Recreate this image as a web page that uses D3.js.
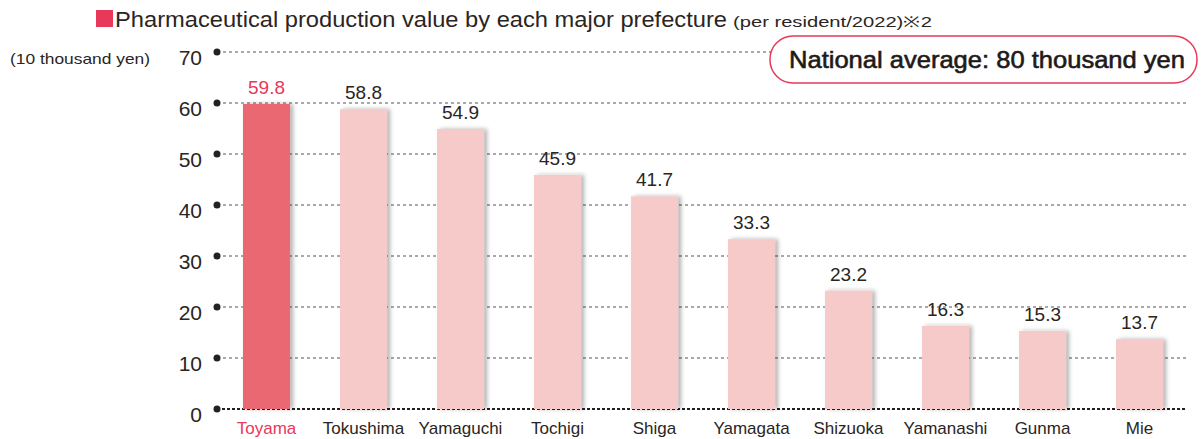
<!DOCTYPE html>
<html><head><meta charset="utf-8">
<script src="https://cdn.jsdelivr.net/npm/d3@7"></script>
<style>body{margin:0;background:#fff;}svg{display:block;font-family:"Liberation Sans",Arial,sans-serif;}</style>
</head><body>
<svg id="chart" width="1203" height="439"></svg>
<script>
const categories = ["Toyama","Tokushima","Yamaguchi","Tochigi","Shiga","Yamagata","Shizuoka","Yamanashi","Gunma","Mie"];
const values = [59.8,58.8,54.9,45.9,41.7,33.3,23.2,16.3,15.3,13.7];
const yTicks = [0,10,20,30,40,50,60,70];
const highlight = "Toyama";

const svg = d3.select("#chart");
const accent = "#e8395a";
const ink = "#2a2522";
const x = d3.scaleBand().domain(categories).range([218,1188]).paddingInner(0.515).paddingOuter(0.2575);
const y = d3.scaleLinear().domain([0,70]).range([409,52]);

const defs = svg.append("defs");
const f = defs.append("filter").attr("id","sh").attr("x","-20%").attr("y","-10%").attr("width","160%").attr("height","130%");
f.append("feDropShadow").attr("dx",3).attr("dy",0).attr("stdDeviation",2).attr("flood-color","#000").attr("flood-opacity",0.3);

// grid
svg.append("g").selectAll("line").data(yTicks).join("line")
  .attr("x1",217).attr("x2",1187).attr("y1",d=>y(d)).attr("y2",d=>y(d))
  .attr("stroke",d=>d===0?"#222":"#555").attr("stroke-width",d=>d===0?2:1.2)
  .attr("stroke-dasharray",d=>d===0?"3,2":"3,3");
svg.append("g").selectAll("circle").data(yTicks).join("circle")
  .attr("cx",217).attr("cy",d=>y(d)).attr("r",3.5).attr("fill","#222");
svg.append("g").selectAll("text").data(yTicks).join("text")
  .attr("x",202).attr("y",d=>y(d)+13).attr("text-anchor","end")
  .attr("font-size",21).attr("fill",ink).text(d=>d);

// bars
svg.append("g").selectAll("rect").data(values).join("rect")
  .attr("x",(d,i)=>x(categories[i])).attr("width",x.bandwidth())
  .attr("y",d=>y(d)).attr("height",d=>y(0)-y(d))
  .attr("fill",(d,i)=>categories[i]===highlight?"#ea6872":"#f7caca")
  .attr("filter","url(#sh)");

svg.append("g").selectAll("text").data(values).join("text")
  .attr("x",(d,i)=>x(categories[i])+x.bandwidth()/2).attr("y",d=>y(d)-10)
  .attr("text-anchor","middle").attr("font-size",19)
  .attr("fill",(d,i)=>categories[i]===highlight?accent:ink).text(d=>d.toFixed(1));

svg.append("g").selectAll("text").data(categories).join("text")
  .attr("x",d=>x(d)+x.bandwidth()/2).attr("y",434)
  .attr("text-anchor","middle").attr("font-size",17)
  .attr("fill",d=>d===highlight?accent:ink).text(d=>d);

// title
svg.append("rect").attr("x",96).attr("y",10).attr("width",17).attr("height",17).attr("fill",accent);
svg.append("text").attr("x",115).attr("y",27).attr("fill",ink).attr("font-size",22)
  .attr("textLength",612).attr("lengthAdjust","spacingAndGlyphs")
  .text("Pharmaceutical production value by each major prefecture");
svg.append("text").attr("x",733).attr("y",27).attr("fill",ink).attr("font-size",15)
  .attr("textLength",199).attr("lengthAdjust","spacingAndGlyphs")
  .text("(per resident/2022)※2");

svg.append("text").attr("x",10).attr("y",64).attr("font-size",15).attr("fill",ink)
  .attr("textLength",140).attr("lengthAdjust","spacingAndGlyphs").text("(10 thousand yen)");

// badge
svg.append("rect").attr("x",770).attr("y",36).attr("width",427).attr("height",47).attr("rx",23)
  .attr("fill","#fff").attr("stroke",accent).attr("stroke-width",1.5);
svg.append("text").attr("x",789).attr("y",68).attr("font-size",24)
  .attr("fill","#1e1a18").attr("stroke","#1e1a18").attr("stroke-width",0.6)
  .attr("textLength",396).attr("lengthAdjust","spacingAndGlyphs")
  .text("National average: 80 thousand yen");
</script>
</body></html>
